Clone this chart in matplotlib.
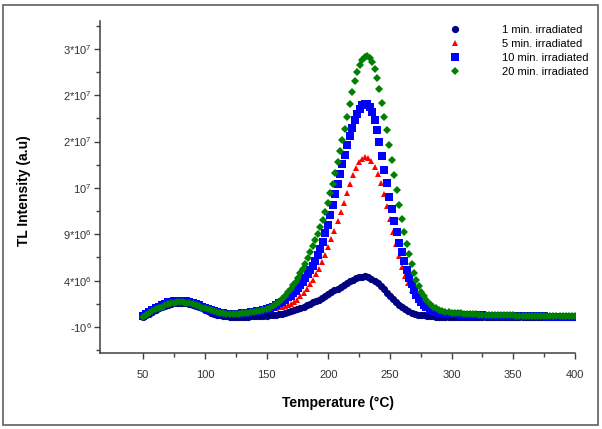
import numpy as np
import matplotlib
matplotlib.use('Agg')
import matplotlib.pyplot as plt
from matplotlib.patches import Rectangle
from matplotlib.ticker import FixedLocator

plt.rcParams['font.family'] = ['Liberation Sans', 'DejaVu Sans']
plt.rcParams['mathtext.fontset'] = 'custom'
plt.rcParams['mathtext.rm'] = 'Liberation Sans'
plt.rcParams['mathtext.it'] = 'Liberation Sans:italic'

# temperature grids (deg C): 1 and 5 min runs every 2.5 deg,
# 10 and 20 min runs read every 2 deg across the main peak
temp = np.arange(50, 400.1, 2.5)
temp_fine = np.concatenate([np.arange(50, 167.6, 2.5),
                            np.arange(169.5, 279.6, 2.0),
                            np.arange(282.5, 400.1, 2.5)])

# TL intensity in units of 1e6
min1 = [0.1, 0.25, 0.45, 0.65, 0.85, 1.0, 1.15, 1.3, 1.4, 1.5, 1.55, 1.6, 1.6, 1.6, 1.55, 1.5, 1.4, 1.3, 1.15,
        1.0, 0.85, 0.7, 0.55, 0.45, 0.35, 0.25, 0.2, 0.15, 0.1, 0.1, 0.1, 0.1, 0.1, 0.1, 0.1, 0.15, 0.15,
        0.15, 0.15, 0.2, 0.2, 0.25, 0.3, 0.35, 0.4, 0.45, 0.5, 0.6, 0.7, 0.8, 0.95, 1.05, 1.2, 1.35, 1.5,
        1.65, 1.8, 1.95, 2.15, 2.35, 2.55, 2.75, 2.95, 3.15, 3.35, 3.55, 3.75, 3.95, 4.1, 4.25, 4.35, 4.4,
        4.45, 4.35, 4.2, 4.0, 3.7, 3.4, 3.05, 2.7, 2.35, 2.0, 1.7, 1.4, 1.15, 0.9, 0.7, 0.55, 0.45, 0.35,
        0.3, 0.25, 0.2, 0.15, 0.15, 0.1, 0.1, 0.1, 0.1, 0.1, 0.1,
        0.1, 0.1, 0.1, 0.1, 0.1, 0.1, 0.1, 0.1, 0.1, 0.1, 0.1, 0.1, 0.1, 0.1, 0.1, 0.1, 0.1, 0.1, 0.1, 0.1,
        0.1, 0.1, 0.1, 0.1, 0.1, 0.1, 0.1, 0.1, 0.1, 0.1, 0.1, 0.1, 0.1, 0.1, 0.1, 0.1, 0.1, 0.1, 0.1, 0.1]

min5 = [0.1, 0.3, 0.5, 0.7, 0.9, 1.05, 1.2, 1.35, 1.45, 1.55, 1.6, 1.65, 1.65, 1.65, 1.6, 1.55, 1.45, 1.35,
        1.25, 1.1, 1.0, 0.9, 0.8, 0.7, 0.6, 0.55, 0.5, 0.45, 0.45, 0.45, 0.45, 0.45, 0.5, 0.5, 0.55, 0.6, 0.65,
        0.7, 0.75, 0.8, 0.85, 0.9, 1.0, 1.05, 1.15, 1.2, 1.3, 1.4, 1.5, 1.7, 1.95, 2.3, 2.7, 3.1, 3.6, 4.1,
        4.7, 5.3, 6.0, 6.8, 7.6, 8.5, 9.4, 10.4, 11.4, 12.4, 13.4, 14.4, 15.4, 16.2, 16.8, 17.1, 17.3, 17.2,
        16.9, 16.3, 15.5, 14.5, 13.3, 12.0, 10.6, 9.2, 7.9, 6.7, 5.5, 4.5, 3.7, 3.0, 2.5, 2.1, 1.8, 1.5,
        1.25, 1.05, 0.9, 0.75, 0.65, 0.55, 0.5, 0.45, 0.42,
        0.4, 0.38, 0.36, 0.34, 0.32, 0.3, 0.29, 0.28, 0.27, 0.26, 0.25, 0.24, 0.23, 0.22, 0.21, 0.2, 0.2,
        0.19, 0.19, 0.18, 0.18, 0.17, 0.17, 0.16, 0.16, 0.15, 0.15, 0.15, 0.14, 0.14, 0.14, 0.13, 0.13,
        0.13, 0.12, 0.12, 0.12, 0.12, 0.11, 0.11]

min10 = [0.2, 0.4, 0.6, 0.8, 1.0, 1.2, 1.35, 1.5, 1.65, 1.75, 1.8, 1.85, 1.85, 1.85, 1.8, 1.7, 1.6, 1.5, 1.35,
         1.2, 1.05, 0.95, 0.85, 0.75, 0.65, 0.55, 0.5, 0.45, 0.45, 0.45, 0.45, 0.45, 0.5, 0.5, 0.55, 0.6, 0.65,
         0.7, 0.75, 0.85, 0.95, 1.05, 1.2, 1.35, 1.55, 1.75, 1.95, 2.2,
         # 169.5 .. 279.5 every 2
         2.4, 2.65, 2.9, 3.25, 3.55, 3.9, 4.3, 4.7, 5.1, 5.6,
         6.15, 6.8, 7.45, 8.2, 9.1, 10.05, 11.1, 12.15, 13.3, 14.4,
         15.5, 16.6, 17.6, 18.65, 19.6, 20.5, 21.3, 22.0, 22.5, 22.9,
         23.1, 23.0, 22.7, 22.15, 21.3, 20.2, 18.9, 17.45, 15.95, 14.5,
         13.05, 11.7, 10.4, 9.2, 8.1, 7.05, 6.1, 5.15, 4.3, 3.6,
         2.95, 2.45, 2.0, 1.65, 1.35, 1.15,
         # 282.5 .. 400
         0.9, 0.75, 0.65, 0.55, 0.5, 0.45, 0.42, 0.4,
         0.38, 0.36, 0.34, 0.32, 0.3, 0.29, 0.28, 0.27, 0.26, 0.25, 0.24, 0.23, 0.22, 0.21, 0.2, 0.2, 0.19,
         0.19, 0.18, 0.18, 0.17, 0.17, 0.16, 0.16, 0.15, 0.15, 0.15, 0.14, 0.14, 0.14, 0.13, 0.13, 0.13,
         0.12, 0.12, 0.12, 0.12, 0.11, 0.11, 0.11]

min20 = [0.1, 0.3, 0.5, 0.7, 0.9, 1.05, 1.2, 1.35, 1.45, 1.55, 1.6, 1.65, 1.65, 1.65, 1.6, 1.55, 1.45, 1.35,
         1.25, 1.1, 1.0, 0.9, 0.8, 0.7, 0.6, 0.55, 0.5, 0.45, 0.45, 0.45, 0.45, 0.45, 0.5, 0.5, 0.55, 0.6, 0.65,
         0.7, 0.75, 0.85, 0.95, 1.1, 1.3, 1.5, 1.75, 2.05, 2.4, 2.8,
         # 169.5 .. 279.5 every 2
         3.1, 3.5, 3.9, 4.3, 4.8, 5.3, 5.8, 6.4, 7.05, 7.7,
         8.35, 9.05, 9.75, 10.5, 11.4, 12.35, 13.4, 14.45, 15.6, 16.8,
         18.0, 19.2, 20.4, 21.65, 23.0, 24.3, 25.5, 26.5, 27.25, 27.8,
         28.15, 28.25, 28.05, 27.55, 26.8, 25.9, 24.7, 23.2, 21.65, 20.2,
         18.6, 17.0, 15.4, 13.8, 12.2, 10.7, 9.3, 8.0, 6.85, 5.8,
         4.85, 4.05, 3.4, 2.8, 2.3, 1.9,
         # 282.5 .. 400
         1.45, 1.2, 1.0, 0.85, 0.75, 0.65, 0.6, 0.55,
         0.5, 0.48, 0.46, 0.44, 0.42, 0.4, 0.38, 0.36, 0.35, 0.34, 0.33, 0.32, 0.31, 0.3, 0.29, 0.28, 0.27,
         0.26, 0.25, 0.25, 0.24, 0.23, 0.23, 0.22, 0.22, 0.21, 0.21, 0.2, 0.2, 0.2, 0.19, 0.19, 0.18, 0.18,
         0.18, 0.17, 0.17, 0.17, 0.16, 0.16]

labels = ['1 min. irradiated', '5 min. irradiated', '10 min. irradiated', '20 min. irradiated']

# the odd rounded tick labels of the original
ytick_vals = [-1e6, 4e6, 9e6, 1.4e7, 1.9e7, 2.4e7, 2.9e7]
ytick_text = [r'-10$^{6}$', r'4*10$^{6}$', r'9*10$^{6}$', r'10$^{7}$', r'2*10$^{7}$', r'2*10$^{7}$', r'3*10$^{7}$']

fig = plt.figure(figsize=(6.02, 4.29), dpi=100)
ax = fig.add_axes([100 / 602, 1 - 353 / 429, 475 / 602, 332 / 429])

scale = 1e6
ax.plot(temp, np.array(min1) * scale, 'o', color='#000080', ms=5.2, mew=0, label=labels[0])
ax.plot(temp, np.array(min5) * scale, '^', color='#ff0000', ms=5, mew=0, label=labels[1])
ax.plot(temp_fine, np.array(min10) * scale, 's', color='#0000ff', ms=5.2, mew=0, label=labels[2])
ax.plot(temp_fine, np.array(min20) * scale, 'D', color='#008000', ms=4.3, mew=0, label=labels[3])

ax.set_xlim(15, 400)
ax.set_ylim(-3.8e6, 3.2e7)

ax.set_xticks([50, 100, 150, 200, 250, 300, 350, 400])
ax.xaxis.set_minor_locator(FixedLocator([75, 125, 175, 225, 275, 325, 375]))
ax.set_yticks(ytick_vals)
ax.set_yticklabels(ytick_text)
ax.yaxis.set_minor_locator(FixedLocator([-3.5e6, 1.5e6, 6.5e6, 1.15e7, 1.65e7, 2.15e7, 2.65e7, 3.15e7]))

for s in ['top', 'right']:
    ax.spines[s].set_visible(False)
for s in ['left', 'bottom']:
    ax.spines[s].set_color('#404040')
    ax.spines[s].set_linewidth(1.1)

ax.tick_params(which='major', direction='out', length=4, width=1, color='#404040', labelsize=8, labelcolor='#333333')
ax.tick_params(which='minor', direction='out', length=3, width=1, color='#404040')
ax.tick_params(axis='x', which='major', pad=8)
ax.tick_params(axis='y', which='major', pad=2)

ax.set_xlabel('Temperature (°C)', fontsize=10, fontweight='bold')
ax.set_ylabel('TL Intensity (a.u)', fontsize=10, fontweight='bold')
ax.xaxis.set_label_coords(0.5, -0.13)
ax.yaxis.set_label_coords(-0.146, 0.49)

ax.legend(loc='upper right', bbox_to_anchor=(588 / 602, 1 - 25 / 429), bbox_transform=fig.transFigure,
          frameon=False, fontsize=8, handlelength=3.0, handletextpad=2.7, labelspacing=0.35,
          borderpad=0, borderaxespad=0, numpoints=1)

# outer frame
fig.patches.append(Rectangle((3 / 602, 4 / 429), 595 / 602, 420 / 429, transform=fig.transFigure,
                             fill=False, edgecolor='#606060', linewidth=1.2))

fig.savefig('out.png', dpi=100)
